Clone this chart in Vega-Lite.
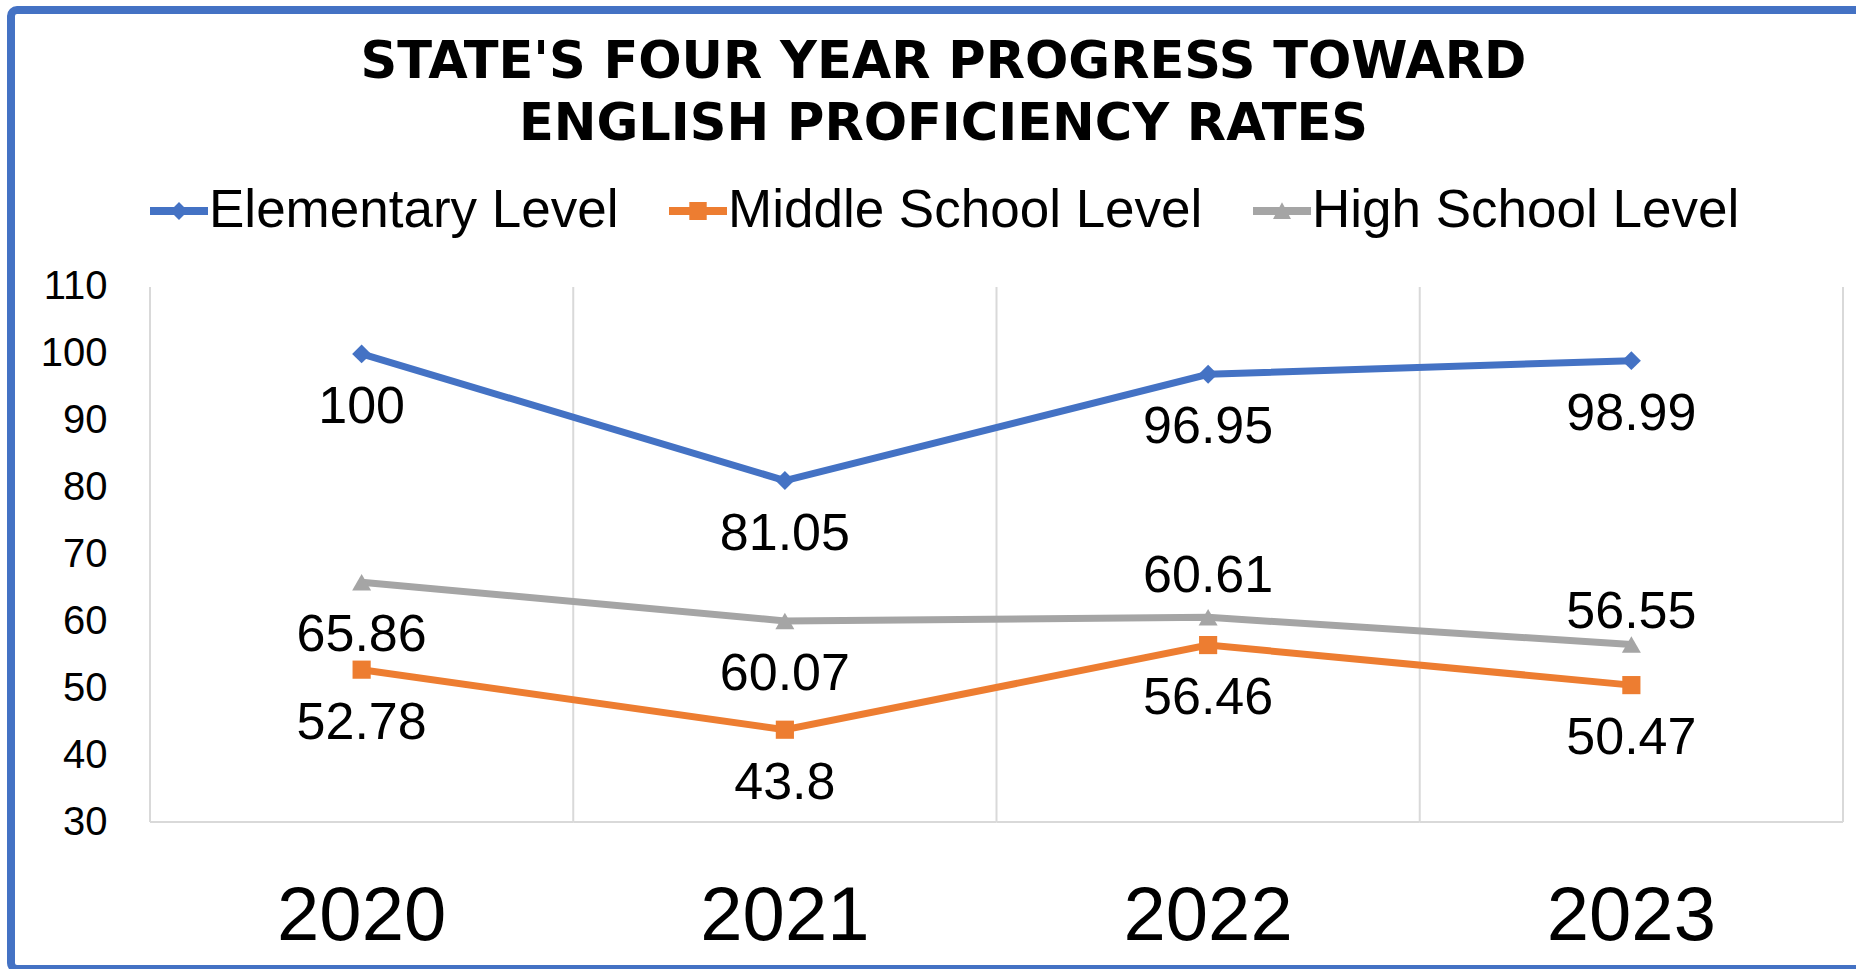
{
  "$schema": "https://vega.github.io/schema/vega-lite/v6.json",
  "width": 1865,
  "height": 959,
  "autosize": "none",
  "padding": {"left": 11, "top": 10, "right": -20, "bottom": 0},
  "background": "white",
  "config": {
    "view": {"stroke": "#4472C4", "strokeWidth": 8, "cornerRadius": 6, "fill": "white"},
    "font": "Liberation Sans",
    "axis": {"labelColor": "black", "labelFont": "Liberation Sans"}
  },
  "title": {
    "text": ["STATE'S FOUR YEAR PROGRESS TOWARD", "ENGLISH PROFICIENCY RATES"],
    "font": "DejaVu Sans",
    "fontWeight": "bold",
    "fontSize": 51,
    "color": "black",
    "anchor": "middle",
    "frame": "group",
    "orient": "top",
    "baseline": "top",
    "lineHeight": 62,
    "offset": -30,
    "dy": 111
  },
  "data": {
    "values": [
      {"year": "2020", "level": "Elementary Level", "value": 100},
      {"year": "2021", "level": "Elementary Level", "value": 81.05},
      {"year": "2022", "level": "Elementary Level", "value": 96.95},
      {"year": "2023", "level": "Elementary Level", "value": 98.99},
      {"year": "2020", "level": "Middle School Level", "value": 52.78},
      {"year": "2021", "level": "Middle School Level", "value": 43.8},
      {"year": "2022", "level": "Middle School Level", "value": 56.46},
      {"year": "2023", "level": "Middle School Level", "value": 50.47},
      {"year": "2020", "level": "High School Level", "value": 65.86},
      {"year": "2021", "level": "High School Level", "value": 60.07},
      {"year": "2022", "level": "High School Level", "value": 60.61},
      {"year": "2023", "level": "High School Level", "value": 56.55}
    ]
  },
  "encoding": {
    "x": {
      "field": "year",
      "type": "ordinal",
      "scale": {"type": "band", "paddingInner": 0, "paddingOuter": 0.2032, "align": 0.8081},
      "axis": {
        "title": null,
        "orient": "bottom",
        "offset": -30,
        "domain": false,
        "ticks": false,
        "tickSize": 0,
        "grid": false,
        "labelPadding": 0,
        "labelBaseline": "alphabetic",
        "labelFontSize": 76,
        "labelAngle": 0
      }
    },
    "y": {
      "field": "value",
      "type": "quantitative",
      "scale": {"domain": [8.02, 151.42], "nice": false, "zero": false},
      "axis": {
        "title": null,
        "values": [30, 40, 50, 60, 70, 80, 90, 100, 110],
        "offset": -96,
        "domain": false,
        "ticks": false,
        "tickSize": 0,
        "grid": false,
        "labelPadding": 0,
        "labelFontSize": 40,
        "labelAlign": "right",
        "labelBaseline": "middle"
      }
    }
  },
  "layer": [
    {
      "transform": [{"filter": "datum.level === 'Elementary Level'"}],
      "mark": {"type": "rule", "color": "#d9d9d9", "strokeWidth": 2},
      "encoding": {
        "x": {"field": "year", "type": "ordinal", "bandPosition": 0},
        "y": {"datum": 30},
        "y2": {"datum": 110}
      }
    },
    {
      "transform": [{"filter": "datum.level === 'Elementary Level' && datum.year === '2023'"}],
      "mark": {"type": "rule", "color": "#d9d9d9", "strokeWidth": 2},
      "encoding": {
        "x": {"field": "year", "type": "ordinal", "bandPosition": 1},
        "y": {"datum": 30},
        "y2": {"datum": 110}
      }
    },
    {
      "transform": [{"filter": "datum.level === 'Elementary Level'"}],
      "mark": {"type": "rule", "color": "#d9d9d9", "strokeWidth": 2},
      "encoding": {
        "x": {"field": "year", "type": "ordinal", "bandPosition": 0},
        "x2": {"field": "year", "bandPosition": 1},
        "y": {"datum": 30}
      }
    },
    {
      "mark": {"type": "line", "strokeWidth": 7},
      "encoding": {
        "color": {
          "field": "level",
          "type": "nominal",
          "scale": {
            "domain": ["Elementary Level", "Middle School Level", "High School Level"],
            "range": ["#4472C4", "#ED7D31", "#A5A5A5"]
          }
        }
      }
    },
    {
      "mark": {"type": "point", "filled": true, "size": 10, "opacity": 0},
      "encoding": {
        "color": {
          "field": "level",
          "type": "nominal",
          "legend": {
            "title": null,
            "orient": "none",
            "direction": "horizontal",
            "legendX": 139,
            "legendY": 172,
            "padding": 0,
            "columnPadding": 50,
            "labelOffset": 1,
            "labelFontSize": 53,
            "labelFont": "Liberation Sans",
            "labelColor": "black",
            "labelLimit": 1000,
            "symbolSize": 3364,
            "symbolOffset": 0,
            "symbolStrokeWidth": 0,
            "symbolOpacity": 1
          }
        },
        "shape": {
          "field": "level",
          "type": "nominal",
          "scale": {
            "domain": ["Elementary Level", "Middle School Level", "High School Level"],
            "range": [
              "M-1,-0.14L1,-0.14L1,0.14L-1,0.14Z M0,-0.31L0.31,0L0,0.31L-0.31,0Z",
              "M-1,-0.14L1,-0.14L1,0.14L-1,0.14Z M-0.3,-0.31L0.3,-0.31L0.3,0.31L-0.3,0.31Z",
              "M-1,-0.14L1,-0.14L1,0.14L-1,0.14Z M0,-0.3L0.31,0.28L-0.31,0.28Z"
            ]
          },
          "legend": {
            "title": null,
            "orient": "none",
            "direction": "horizontal",
            "legendX": 139,
            "legendY": 172,
            "padding": 0,
            "columnPadding": 50,
            "labelOffset": 1,
            "labelFontSize": 53,
            "labelFont": "Liberation Sans",
            "labelColor": "black",
            "labelLimit": 1000,
            "symbolSize": 3364,
            "symbolOffset": 0,
            "symbolStrokeWidth": 0,
            "symbolOpacity": 1
          }
        }
      }
    },
    {
      "transform": [{"filter": "datum.level === 'Elementary Level'"}],
      "mark": {"type": "point", "filled": true, "size": 360, "opacity": 1, "shape": "diamond", "color": "#4472C4"},
      "encoding": {}
    },
    {
      "transform": [{"filter": "datum.level === 'Middle School Level'"}],
      "mark": {"type": "point", "filled": true, "size": 330, "opacity": 1, "shape": "square", "color": "#ED7D31"},
      "encoding": {}
    },
    {
      "transform": [{"filter": "datum.level === 'High School Level'"}],
      "mark": {"type": "point", "filled": true, "size": 360, "opacity": 1, "shape": "triangle-up", "color": "#A5A5A5"},
      "encoding": {}
    },
    {
      "transform": [{"filter": "!(datum.level === 'High School Level' && (datum.year === '2022' || datum.year === '2023'))"}],
      "mark": {"type": "text", "fontSize": 52, "dy": 53, "color": "black", "baseline": "middle", "font": "Liberation Sans"},
      "encoding": {"text": {"field": "value", "type": "nominal"}}
    },
    {
      "transform": [{"filter": "datum.level === 'High School Level' && datum.year === '2022'"}],
      "mark": {"type": "text", "fontSize": 52, "dy": -41, "color": "black", "baseline": "middle", "font": "Liberation Sans"},
      "encoding": {"text": {"field": "value", "type": "nominal"}}
    },
    {
      "transform": [{"filter": "datum.level === 'High School Level' && datum.year === '2023'"}],
      "mark": {"type": "text", "fontSize": 52, "dy": -32, "color": "black", "baseline": "middle", "font": "Liberation Sans"},
      "encoding": {"text": {"field": "value", "type": "nominal"}}
    }
  ]
}
